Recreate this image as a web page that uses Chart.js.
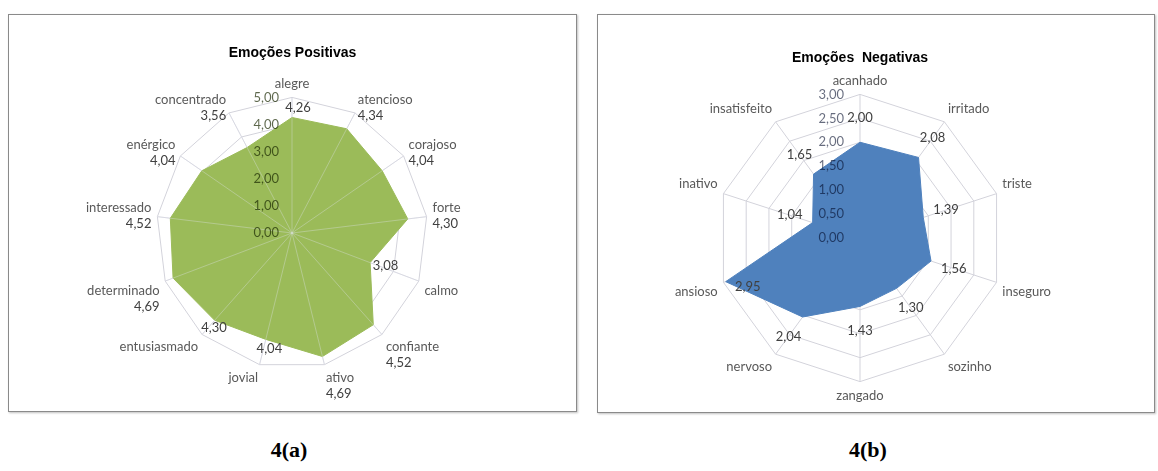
<!DOCTYPE html>
<html>
<head>
<meta charset="utf-8">
<script src="https://cdn.jsdelivr.net/npm/chart.js@4.4.1/dist/chart.umd.min.js"></script>
<style>
body{margin:0;background:#fff;width:1158px;height:471px;position:relative;overflow:hidden}
.box{position:absolute;border:1px solid #8a8a8a;box-shadow:1px 1px 2px rgba(0,0,0,.25);background:#fff}
#boxA{left:8px;top:14px;width:567px;height:396px}
#boxB{left:597px;top:14px;width:556px;height:397px}
.cap{position:absolute;top:437px;width:120px;text-align:center;font:bold 22px "Liberation Serif",serif;color:#000}
</style>
</head>
<body>
<div class="box" id="boxA"><canvas id="posChart"></canvas></div>
<div class="box" id="boxB"><canvas id="negChart"></canvas></div>
<div class="cap" style="left:229px">4(a)</div>
<div class="cap" style="left:808px">4(b)</div>
<script>
var posLabels=['alegre','atencioso','corajoso','forte','calmo','confiante','ativo','jovial','entusiasmado','determinado','interessado','enérgico','concentrado'];
var posValues=[4.26,4.34,4.04,4.30,3.08,4.52,4.69,4.04,4.30,4.69,4.52,4.04,3.56];
var posTicks=[0,1,2,3,4,5];
var negLabels=['acanhado','irritado','triste','inseguro','sozinho','zangado','nervoso','ansioso','inativo','insatisfeito'];
var negValues=[2.00,2.08,1.39,1.56,1.30,1.43,2.04,2.95,1.04,1.65];
var negTicks=[0,0.5,1,1.5,2,2.5,3];
// where each value label sits: next to the point, under the category name, or inside
var posPlace=['out','under','under','under','out','under','under','out','out','under','under','under','under'];
var negPlace=['out','out','out','out','out','out','out','in','out','out'];

var labelFont='13px Lato, sans-serif';

function fmt(n) {
    return n.toFixed(2).replace('.',',');
}

//draws tick numbers, value labels and (optionally) spokes over the filled area
var radarExtras={
    id:'radarExtras',
    afterDatasetsDraw:function(chart,args,opts) {
        var s=chart.scales.r;
        var ctx=chart.ctx;
        ctx.save();
        if(opts.overLines) {
            ctx.strokeStyle=opts.overLines;
            ctx.lineWidth=1;
            for(let i=0;i<chart.data.labels.length;i++) {
                var p=s.getPointPositionForValue(i,s.max);
                ctx.beginPath();
                ctx.moveTo(s.xCenter,s.yCenter);
                ctx.lineTo(p.x,p.y);
                ctx.stroke();
            }
        }
        ctx.font=labelFont;
        ctx.textBaseline='middle';
        ctx.textAlign='right';
        ctx.fillStyle=opts.tickColor;
        opts.ticks.forEach(function(t) {
            ctx.fillText(fmt(t),s.xCenter-opts.tickGap,s.yCenter-s.getDistanceFromCenterForValue(t));
        });
        ctx.fillStyle='#404040';
        var vals=chart.data.datasets[0].data;
        for(let i=0;i<vals.length;i++) {
            var v=vals[i],x,y,align='center',q;
            var how=opts.place[i];
            if(how==='under' && s._pointLabelItems) {
                var it=s._pointLabelItems[i];
                align=it.textAlign;
                x=it.x;
                y=it.bottom+8;
            } else if(how==='in') {
                q=s.getPointPosition(i,s.getDistanceFromCenterForValue(v)-opts.gap*0.7);
                x=q.x+6;
                y=q.y+10;
            } else {
                q=s.getPointPosition(i,s.getDistanceFromCenterForValue(v)+opts.gap);
                x=q.x+opts.outShift;
                y=q.y;
            }
            ctx.textAlign=align;
            ctx.fillText(fmt(v),x,y);
        }
        ctx.restore();
    }
};

function radar(id,labels,values,ticks,max,step,title,fill,place,extra,pad) {
    var ctx=document.getElementById(id).getContext('2d');
    return new Chart(ctx,{
        type:'radar',
        data:{
            labels:labels,
            datasets:[{
                data:values,
                backgroundColor:fill,
                borderColor:fill,
                borderWidth:1,
                fill:true,
                pointRadius:0,
                tension:0
            }]
        },
        options:{
            responsive:true,
            maintainAspectRatio:false,
            animation:false,
            layout:{padding:pad},
            plugins:{
                legend:{display:false},
                tooltip:{enabled:false},
                title:{display:true,text:title,color:'#000',
                    font:{family:'Liberation Sans, Arial, sans-serif',size:14,weight:'bold'},
                    padding:{top:extra.titleTop,bottom:extra.titleGap}},
                radarExtras:{ticks:ticks,tickColor:extra.tickColor,tickGap:extra.tickGap,
                    place:place,gap:extra.gap,outShift:extra.outShift,overLines:extra.overLines}
            },
            scales:{
                r:{
                    min:0,max:max,
                    ticks:{display:false,stepSize:step},
                    grid:{color:'#d3d3db',lineWidth:1},
                    angleLines:{color:'#d3d3db',lineWidth:1},
                    pointLabels:{color:'#595959',padding:6,font:{family:'Lato, sans-serif',size:13}}
                }
            }
        },
        plugins:[radarExtras]
    });
}

radar('posChart',posLabels,posValues,posTicks,5,1,'Emoções Positivas','#9bbb59',posPlace,
    {tickColor:'rgba(25,40,0,0.7)',tickGap:13,gap:10,outShift:6,titleTop:10,titleGap:12,overLines:'rgba(225,230,240,0.35)'},
    {top:20,bottom:22,left:0,right:0});
radar('negChart',negLabels,negValues,negTicks,3,0.5,'Emoções  Negativas','#4f81bd',negPlace,
    {tickColor:'rgba(0,10,40,0.6)',tickGap:16,gap:24,outShift:0,titleTop:11,titleGap:6,overLines:null},
    {top:24,bottom:7,left:0,right:32});
</script>
</body>
</html>
